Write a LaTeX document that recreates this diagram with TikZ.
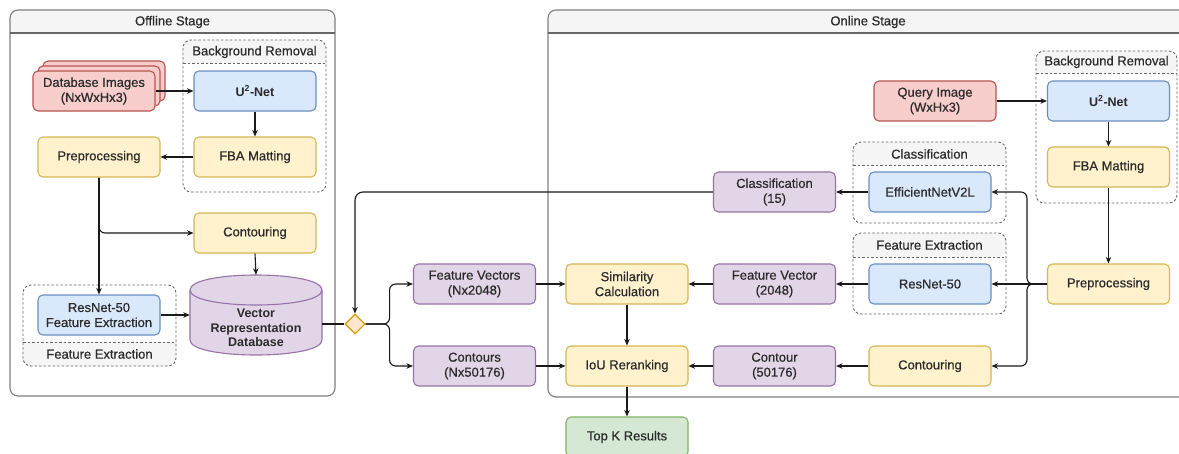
\documentclass[tikz,border=0pt]{standalone}
\usepackage{fontspec}
\setmainfont{Liberation Sans}
\newfontfamily\medfont{Liberation Sans}[FakeBold=0.6]
\usetikzlibrary{arrows.meta,shapes.geometric}
\definecolor{txt}{HTML}{2B2B2B}
\definecolor{yfill}{HTML}{FFF2CC}\definecolor{ystroke}{HTML}{D6B656}
\definecolor{bfill}{HTML}{DAE8FC}\definecolor{bstroke}{HTML}{6C8EBF}
\definecolor{pfill}{HTML}{E1D5E7}\definecolor{pstroke}{HTML}{9673A6}
\definecolor{rfill}{HTML}{F8CECC}\definecolor{rstroke}{HTML}{B85450}
\definecolor{gfill}{HTML}{D5E8D4}\definecolor{gstroke}{HTML}{82B366}
\definecolor{dfill}{HTML}{FFE6CC}\definecolor{dstroke}{HTML}{D79B00}
\definecolor{hdr}{HTML}{F5F5F5}
\definecolor{cline}{HTML}{7F7F7F}
\definecolor{gline}{HTML}{666666}
\definecolor{conn}{HTML}{1A1A1A}
\begin{document}
\begin{tikzpicture}[x=1pt,y=-1pt,
  reg/.style={font=\medfont\fontsize{13}{15}\selectfont},
  bld/.style={font=\fontsize{12.5}{14.5}\selectfont\bfseries},
  box/.style={rounded corners=5pt, minimum width=122pt, minimum height=40pt, inner sep=1pt, align=center, line width=1.1pt, text=txt, reg},
  yel/.style={box, fill=yfill, draw=ystroke},
  blu/.style={box, fill=bfill, draw=bstroke},
  pur/.style={box, fill=pfill, draw=pstroke},
  redb/.style={box, fill=rfill, draw=rstroke},
  grn/.style={box, fill=gfill, draw=gstroke},
  ttl/.style={text=txt, reg, inner sep=0pt},
  cont/.style={draw=cline, line width=1.1pt, rounded corners=8pt},
  hline/.style={draw=gline, line width=1.6pt},
  grp/.style={draw=gline, line width=0.9pt, dash pattern=on 2.5pt off 2pt, rounded corners=8pt},
  gsep/.style={draw=gline, line width=0.9pt, dash pattern=on 2.5pt off 2pt},
  arr/.style={draw=conn, line width=1.1pt, -{Stealth[length=6.5pt,width=5.5pt]}},
  lin/.style={draw=conn, line width=1.1pt}
]
\useasboundingbox (0,0) rectangle (1179,453);
\clip (0,0) rectangle (1179,453);
\fill[white] (0,0) rectangle (1179,453);

% ---------- Offline container ----------
\fill[white, rounded corners=8pt] (10,10) rectangle (335,396);
\fill[hdr] (10,33) [rounded corners=8pt] |- (172,10) -| (335,33) [sharp corners] -- cycle;
\draw[cont] (10,10) rectangle (335,396);
\draw[hline] (10,33) -- (335,33);
\node[ttl] (offt) at (172.5,22) {Offline Stage};

% ---------- Online container ----------
\fill[white, rounded corners=8pt] (548,10) rectangle (1195,397);
\fill[hdr] (548,33) [rounded corners=8pt] |- (870,10) -| (1195,33) [sharp corners] -- cycle;
\draw[cont] (548,10) rectangle (1195,397);
\draw[hline] (548,33) -- (1195,33);
\node[ttl] (ont) at (868,22) {Online Stage};

% ---------- Dashed groups ----------
\fill[hdr] (183,63) [rounded corners=8pt] |- (255,40) -| (326,63) [sharp corners] -- cycle;
\draw[grp] (183,40) rectangle (326,192);
\draw[gsep] (183,63) -- (326,63);
\node[ttl] (bgofft) at (254.5,52) {Background Removal};
\fill[hdr] (23,342) -- (176,342) [rounded corners=8pt] |- (100,366) -| (23,342) [sharp corners] -- cycle;
\draw[grp] (23,285) rectangle (176,366);
\draw[gsep] (23,342) -- (176,342);
\node[ttl] (feofft) at (99.5,354) {Feature Extraction};
\fill[hdr] (1036,73) [rounded corners=8pt] |- (1107,51) -| (1177,73) [sharp corners] -- cycle;
\draw[grp] (1036,51) rectangle (1177,203);
\draw[gsep] (1036,73) -- (1177,73);
\node[ttl] (bgont) at (1106.5,62) {Background Removal};
\fill[hdr] (853,165) [rounded corners=8pt] |- (930,142) -| (1006,165) [sharp corners] -- cycle;
\draw[grp] (853,142) rectangle (1006,223);
\draw[gsep] (853,165) -- (1006,165);
\node[ttl] (clst) at (929.5,154) {Classification};
\fill[hdr] (853,257) [rounded corners=8pt] |- (930,233) -| (1006,257) [sharp corners] -- cycle;
\draw[grp] (853,233) rectangle (1006,314);
\draw[gsep] (853,257) -- (1006,257);
\node[ttl] (feont) at (929.5,245) {Feature Extraction};

% ---------- Offline nodes ----------
\node[redb] (dbimg3) at (104,81) {};
\node[redb] (dbimg2) at (99,86) {};
\node[redb] (dbimg) at (94,91) {Database Images\\(NxWxHx3)};
\node[blu, bld] (u2off) at (255,91) {U\textsuperscript{2}-Net};
\node[yel] (fbaoff) at (255,157) {FBA Matting};
\node[yel] (preoff) at (99,157) {Preprocessing};
\node[yel] (contoff) at (255,233) {Contouring};
\node[blu] (resoff) at (99,315) {ResNet-50\\Feature Extraction};

% cylinder
\node[minimum width=132pt, minimum height=80pt, inner sep=0pt] (dbshape) at (256,315) {};
\fill[pfill] (190,290) -- (190,340) .. controls (190,360) and (322,360) .. (322,340) -- (322,290) .. controls (322,270) and (190,270) .. (190,290) -- cycle;
\draw[pstroke, line width=1.1pt] (190,290) -- (190,340) .. controls (190,360) and (322,360) .. (322,340) -- (322,290) .. controls (322,270) and (190,270) .. (190,290) -- cycle;
\draw[pstroke, line width=1.1pt] (190,290) .. controls (190,310) and (322,310) .. (322,290);
\node[text=txt, bld, align=center, inner sep=0pt] (dbtxt) at (256,328) {Vector\\Representation\\Database};

\node[diamond, draw=dstroke, fill=dfill, minimum width=20pt, minimum height=20pt, inner sep=0pt, line width=1.1pt] (dia) at (355,324) {};

% ---------- middle / online nodes ----------
\node[pur] (fvs) at (474.5,284) {Feature Vectors\\(Nx2048)};
\node[pur] (cts) at (474.5,366) {Contours\\(Nx50176)};
\node[yel] (sim) at (627,284) {Similarity\\Calculation};
\node[yel] (iou) at (627,366) {IoU Reranking};
\node[grn] (topk) at (627,437) {Top K Results};
\node[pur] (cls) at (774.5,192) {Classification\\(15)};
\node[pur] (fv) at (774.5,284) {Feature Vector\\(2048)};
\node[pur] (ct) at (774.5,366) {Contour\\(50176)};
\node[blu] (eff) at (930,192) {EfficientNetV2L};
\node[blu] (res) at (930,284) {ResNet-50};
\node[yel] (conton) at (930,366) {Contouring};
\node[redb] (query) at (935,101) {Query Image\\(WxHx3)};
\node[blu, bld] (u2on) at (1108.5,101) {U\textsuperscript{2}-Net};
\node[yel] (fbaon) at (1108.5,167) {FBA Matting};
\node[yel] (preon) at (1108.5,284) {Preprocessing};

% ---------- connectors: offline ----------
\draw[arr] (dbimg.east) -- (u2off.west);
\draw[arr] (u2off.south) -- (fbaoff.north);
\draw[arr] (fbaoff.west) -- (preoff.east);
\draw[arr, rounded corners=6pt] (preoff.south) |- (contoff.west);
\draw[arr] (preoff.south) -- (resoff.north);
\draw[arr] (contoff.south) -- (dbshape.north);
\draw[arr] (resoff.east) -- (dbshape.west);
\draw[lin] (dia.west -| dbshape.east) -- (dia.west);

% ---------- connectors: middle ----------
\draw[arr, rounded corners=6pt] (dia.east) -- ++(24,0) |- (fvs.west);
\draw[arr, rounded corners=6pt] (dia.east) -- ++(24,0) |- (cts.west);
\draw[arr] (fvs.east) -- (sim.west);
\draw[arr] (cts.east) -- (iou.west);
\draw[arr] (sim.south) -- (iou.north);
\draw[arr] (iou.south) -- (topk.north);
\draw[arr, rounded corners=8pt] (cls.west) -| (dia.north);

% ---------- connectors: online ----------
\draw[arr] (query.east) -- (u2on.west);
\draw[arr] (u2on.south) -- (fbaon.north);
\draw[arr] (fbaon.south) -- (preon.north);
\draw[arr] (preon.west) -- (res.east);
\draw[arr, rounded corners=6pt] (preon.west) -- ++(-20,0) |- (eff.east);
\draw[arr, rounded corners=6pt] (preon.west) -- ++(-20,0) |- (conton.east);
\draw[arr] (eff.west) -- (cls.east);
\draw[arr] (res.west) -- (fv.east);
\draw[arr] (conton.west) -- (ct.east);
\draw[arr] (fv.west) -- (sim.east);
\draw[arr] (ct.west) -- (iou.east);
\end{tikzpicture}
\end{document}
